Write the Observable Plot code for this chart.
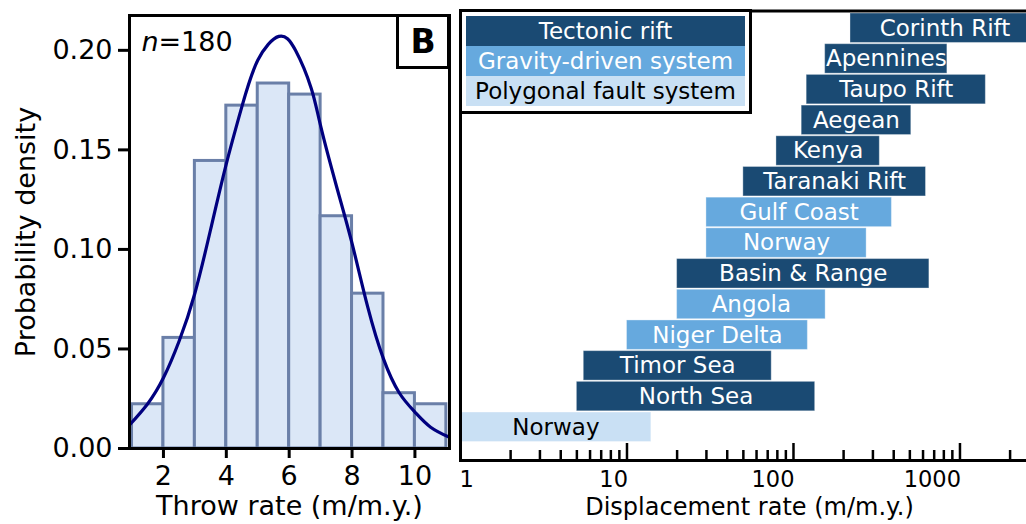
<!DOCTYPE html>
<html>
<head>
<meta charset="utf-8">
<script src="https://cdn.jsdelivr.net/npm/d3@7"></script>
<script src="https://cdn.jsdelivr.net/npm/@observablehq/plot@0.6"></script>
<style>
  html, body { margin: 0; padding: 0; background: #fff; overflow: hidden; }
  #wrap { position: relative; width: 1026px; height: 524px; font-family: "DejaVu Sans", Verdana, sans-serif; }
  #left { position: absolute; left: 0; top: 0; width: 456px; height: 524px; }
  #right { position: absolute; left: 456px; top: 0; width: 570px; height: 524px; overflow: hidden; }
  #left svg, #right svg { max-width: none; display: block; }
  #tag { position: absolute; left: 396px; top: 13.5px; width: 54px; height: 55px; box-sizing: border-box;
         border: 3px solid #000; background: #fff; font-weight: bold; font-size: 33px;
         display: flex; align-items: center; justify-content: center; }
  #legend { position: absolute; left: 459px; top: 9px; border: 3px solid #000; background: #fff;
            padding: 4px 4px 5px 4px; }
  #legend .row { width: 279px; height: 30px; line-height: 30px; text-align: center; font-size: 23px; white-space: nowrap; }
</style>
</head>
<body>
<div id="wrap">
  <div id="left"></div>
  <div id="right"></div>
  <div id="tag">B</div>
  <div id="legend"></div>
</div>
<script>
// Panel B (left): histogram of throw rates with a fitted density curve
const sampleSize = 180;
const binEdges = [1, 2, 3, 4, 5, 6, 7, 8, 9, 10, 11];
const binCounts = [4, 10, 26, 31, 33, 32, 21, 14, 5, 4];
const densityTicks = [0, 0.05, 0.10, 0.15, 0.20];
const throwTicks = [2, 4, 6, 8, 10];

// fitted density curve, sampled along the throw-rate axis
const curveX = [0.92, 1.5, 2, 2.5, 3, 3.5, 4, 4.5, 5, 5.67, 6.2, 6.7, 7, 7.5, 8, 8.5, 9, 9.5, 10, 10.5, 11.1];
const curveY = [0.0118, 0.0225, 0.0355, 0.054, 0.078, 0.110, 0.143, 0.172, 0.195, 0.207, 0.200, 0.181, 0.162, 0.132, 0.103, 0.071, 0.045, 0.028, 0.0183, 0.0107, 0.0056];

// Displacement-rate ranges (right)
const systems = ["Corinth Rift", "Apennines", "Taupo Rift", "Aegean", "Kenya", "Taranaki Rift", "Gulf Coast",
                 "Norway", "Basin & Range", "Angola", "Niger Delta", "Timor Sea", "North Sea", "Norway"];
const systemType = ["Tectonic rift", "Tectonic rift", "Tectonic rift", "Tectonic rift", "Tectonic rift", "Tectonic rift",
                    "Gravity-driven system", "Gravity-driven system", "Tectonic rift", "Gravity-driven system",
                    "Gravity-driven system", "Tectonic rift", "Tectonic rift", "Polygonal fault system"];
const rateMin = [220, 155, 120, 112, 79, 50, 30, 30, 20, 20, 10, 5.5, 5, 1];
const rateMax = [3000, 840, 1430, 510, 330, 625, 390, 275, 655, 156, 122, 74, 135, 14];
const rateTicks = [1, 10, 100, 1000];

const typeNames = ["Tectonic rift", "Gravity-driven system", "Polygonal fault system"];
const typeColors = ["#1a4a73", "#66a9de", "#c9e0f4"];
const typeTextColors = ["#ffffff", "#ffffff", "#000000"];

const fontFamily = '"DejaVu Sans", Verdana, sans-serif';

// ---------- left panel ----------
const bins = binCounts.map((c, i) => ({x0: binEdges[i], x1: binEdges[i + 1], density: c / sampleSize}));
const curve = curveX.map((x, i) => ({x, y: curveY[i]}));

const left = Plot.plot({
  width: 456,
  height: 524,
  marginLeft: 129,
  marginRight: 7,
  marginTop: 15,
  marginBottom: 76,
  style: {fontFamily, fontSize: "27px", background: "transparent", color: "#000"},
  x: {domain: [0.92, 11.1]},
  y: {domain: [0, 0.2175]},
  marks: [
    Plot.rectY(bins, {x1: "x0", x2: "x1", y: "density", fill: "#dbe7f7", stroke: "#6a7fa8", strokeWidth: 3}),
    Plot.line(curve, {x: "x", y: "y", stroke: "#00007f", strokeWidth: 3.2, curve: "natural", clip: true}),
    Plot.frame({stroke: "#000", strokeWidth: 3}),
    Plot.axisY({ticks: densityTicks, tickFormat: d3.format(".2f"), tickSize: 11, tickPadding: 6,
                strokeWidth: 3, fontSize: 27, label: null}),
    Plot.axisX({ticks: throwTicks, tickFormat: d3.format("d"), tickSize: 10, tickPadding: 7,
                strokeWidth: 3, fontSize: 27, label: null}),
    Plot.text([0], {frameAnchor: "left", dx: -103, rotate: -90, text: () => "Probability density",
                    fontSize: 27, textAnchor: "middle", lineAnchor: "middle"}),
    Plot.text([0], {frameAnchor: "bottom", dy: 58, text: () => "Throw rate (m/m.y.)",
                    fontSize: 27, textAnchor: "middle", lineAnchor: "middle"}),
    Plot.text([0], {frameAnchor: "top-left", dx: 12, dy: 16, textAnchor: "start", lineAnchor: "top",
                    text: () => "n", fontStyle: "italic", fontSize: 27}),
    Plot.text([0], {frameAnchor: "top-left", dx: 29, dy: 16, textAnchor: "start", lineAnchor: "top",
                    text: () => `=${sampleSize}`, fontSize: 27})
  ]
});
document.getElementById("left").append(left);

// ---------- right panel ----------
const rows = systems.map((name, i) => ({id: i, name, type: systemType[i], lo: rateMin[i], hi: rateMax[i]}));
const minorTicks = rateTicks.flatMap(d => [2, 3, 4, 5, 6, 7, 8, 9].map(m => m * d)).filter(d => d < 3800);
const frameHeight = 524 - 64 - 10.5;
const fmt = d3.format("d");

const right = Plot.plot({
  width: 600,
  height: 524,
  marginLeft: 4,
  marginRight: 0,
  marginTop: 10.5,
  marginBottom: 64,
  style: {fontFamily, fontSize: "23px", background: "transparent", color: "#000"},
  x: {type: "log", domain: [1, 3800], axis: null},
  y: {type: "band", domain: rows.map(d => d.id), range: [13, 441.5], paddingInner: 0.04, paddingOuter: 0,
      round: false, axis: null},
  color: {domain: typeNames, range: typeColors},
  marks: [
    Plot.barX(rows, {y: "id", x1: "lo", x2: "hi", fill: "type", stroke: "#ffffff", strokeOpacity: 0.35, strokeWidth: 1}),
    ...typeNames.map((t, k) => Plot.text(rows.filter(d => d.type === t), {
      y: "id", x: d => Math.sqrt(d.lo * d.hi), text: "name", fill: typeTextColors[k], fontSize: 23
    })),
    Plot.tickX(rateTicks, {x: d => d, insetTop: frameHeight - 17, stroke: "#000", strokeWidth: 2.5}),
    Plot.tickX(minorTicks, {x: d => d, insetTop: frameHeight - 10, stroke: "#000", strokeWidth: 2.5}),
    Plot.frame({stroke: "#000", strokeWidth: 3}),
    Plot.text(rateTicks.slice(0, 1), {x: d => d, frameAnchor: "bottom", textAnchor: "start", lineAnchor: "top",
                                      dy: 11, dx: -1, text: d => fmt(d), fontSize: 22.5}),
    Plot.text(rateTicks.slice(1), {x: d => d, frameAnchor: "bottom", textAnchor: "end", lineAnchor: "top",
                                   dy: 11, dx: 1, text: d => fmt(d), fontSize: 22.5}),
    Plot.text([0], {frameAnchor: "bottom-left", dx: 289, dy: 47, text: () => "Displacement rate (m/m.y.)",
                    fontSize: 24, textAnchor: "middle", lineAnchor: "middle"})
  ]
});
document.getElementById("right").append(right);

// legend for the fault-system categories
d3.select("#legend").selectAll("div.row")
  .data(typeNames)
  .join("div")
  .attr("class", "row")
  .style("background", (d, i) => typeColors[i])
  .style("color", (d, i) => typeTextColors[i])
  .text(d => d);
</script>
</body>
</html>
